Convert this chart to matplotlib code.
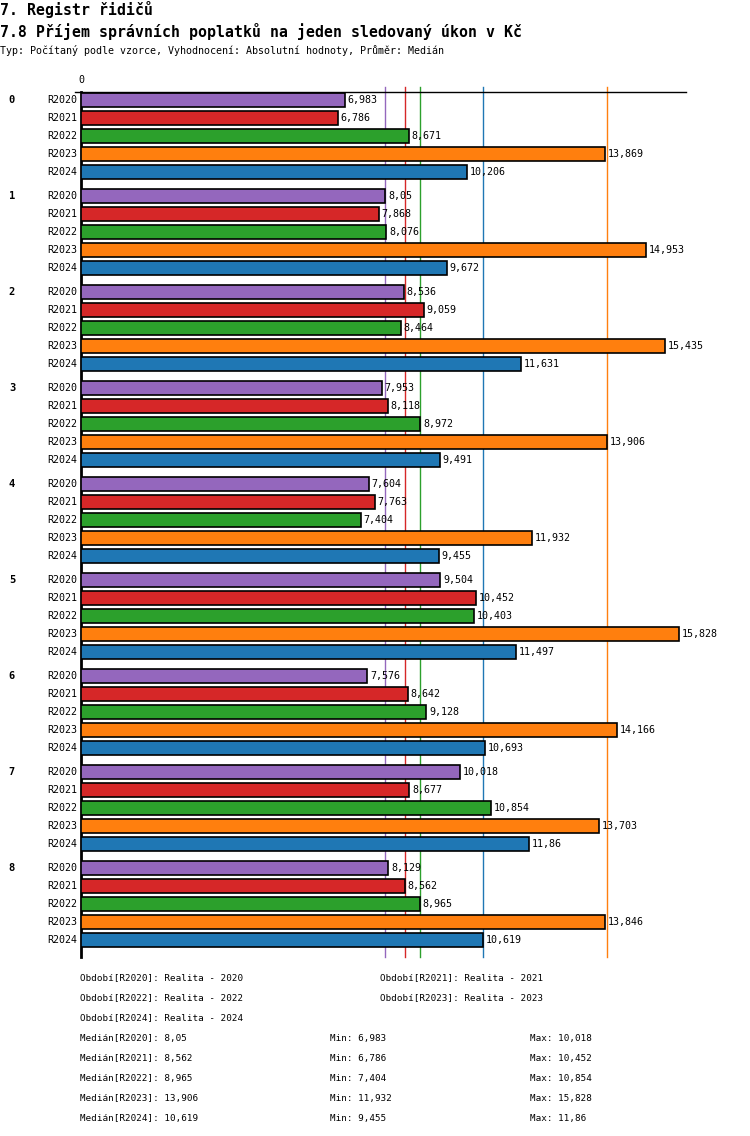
import matplotlib
matplotlib.use("Agg")
import matplotlib.pyplot as plt

W, H = 750, 1136

groups = ["0", "1", "2", "3", "4", "5", "6", "7", "8"]
periods = ["R2020", "R2021", "R2022", "R2023", "R2024"]
colors = ["#9467bd", "#d62728", "#2ca02c", "#ff7f0e", "#1f77b4"]

r2020 = [6.983, 8.05, 8.536, 7.953, 7.604, 9.504, 7.576, 10.018, 8.129]
r2021 = [6.786, 7.868, 9.059, 8.118, 7.763, 10.452, 8.642, 8.677, 8.562]
r2022 = [8.671, 8.076, 8.464, 8.972, 7.404, 10.403, 9.128, 10.854, 8.965]
r2023 = [13.869, 14.953, 15.435, 13.906, 11.932, 15.828, 14.166, 13.703, 13.846]
r2024 = [10.206, 9.672, 11.631, 9.491, 9.455, 11.497, 10.693, 11.86, 10.619]
series = [r2020, r2021, r2022, r2023, r2024]

medians = [8.05, 8.562, 8.965, 13.906, 10.619]
mins = [6.983, 6.786, 7.404, 11.932, 9.455]
maxs = [10.018, 10.452, 10.854, 15.828, 11.86]
period_names = ["Realita - 2020", "Realita - 2021", "Realita - 2022",
                "Realita - 2023", "Realita - 2024"]


def fmt(v):
    s = ('%.3f' % v).rstrip('0').rstrip('.')
    return s.replace('.', ',')


def px(x, y):
    """pixel coords (from top-left) -> figure fraction"""
    return x / W, 1 - y / H


mono = "DejaVu Sans Mono"
plt.rcParams['font.family'] = mono

fig = plt.figure(figsize=(W / 100, H / 100), dpi=100)
ax_l, ax_r, ax_t, ax_b = 81, 686, 92, 957
ax = fig.add_axes([ax_l / W, 1 - ax_b / H, (ax_r - ax_l) / W, (ax_b - ax_t) / H])

step = 96 / 18.0
for g in range(len(groups)):
    for i, (vals, c) in enumerate(zip(series, colors)):
        y = g * step + i
        ax.barh(y, vals[g], height=0.83, color=c, edgecolor='black',
                linewidth=1.2, zorder=3)
        ax.annotate(fmt(vals[g]), (vals[g], y), xytext=(2, 0),
                    textcoords='offset points', va='center', ha='left',
                    fontsize=7.2, zorder=4)
        ax.text(-4 / 37.8, y, periods[i], va='center', ha='right', fontsize=7.2)
    ax.text(-69 / 37.8, g * step, groups[g], va='center', ha='center',
            fontsize=7.5, fontweight='bold')

last = (len(groups) - 1) * step + 4
ax.set_xlim(0, 16.0)
ax.set_ylim(last + 17 / 18, -8 / 18)

for m, c in zip(medians, colors):
    ax.axvline(m, ymin=0, ymax=1 + 5 / 865, color=c, linewidth=1.0,
               zorder=1, clip_on=False)

for s in ['top', 'right', 'bottom']:
    ax.spines[s].set_visible(False)
ax.spines['left'].set_linewidth(2)
ax.plot([-6 / 605, 1], [1, 1], transform=ax.transAxes, color='black',
        linewidth=1.0, clip_on=False, zorder=5)
ax.set_xticks([])
ax.set_yticks([])
ax.text(0, 1 + 12 / 865, '0', transform=ax.transAxes, ha='center',
        va='center', fontsize=7.2)

fig.text(*px(0, 10), "7. Registr řidičů", fontsize=10.7, fontweight='bold',
         va='center', ha='left')
fig.text(*px(0, 31), "7.8 Příjem správních poplatků na jeden sledovaný úkon v Kč",
         fontsize=10.7, fontweight='bold', va='center', ha='left')
fig.text(*px(0, 51), "Typ: Počítaný podle vzorce, Vyhodnocení: Absolutní hodnoty, "
         "Průměr: Medián", fontsize=7.2, va='center', ha='left')

# footer: periods
pos = [(80, 978), (380, 978), (80, 998), (380, 998), (80, 1018)]
for (x, y), p, n in zip(pos, periods, period_names):
    fig.text(*px(x, y), "Období[%s]: %s" % (p, n), fontsize=6.7,
             va='center', ha='left')

for k, p in enumerate(periods):
    y = 1038 + 20 * k
    fig.text(*px(80, y), "Medián[%s]: %s" % (p, fmt(medians[k])),
             fontsize=6.7, va='center', ha='left')
    fig.text(*px(330, y), "Min: %s" % fmt(mins[k]), fontsize=6.7,
             va='center', ha='left')
    fig.text(*px(530, y), "Max: %s" % fmt(maxs[k]), fontsize=6.7,
             va='center', ha='left')

fig.savefig("out.png", dpi=100)
